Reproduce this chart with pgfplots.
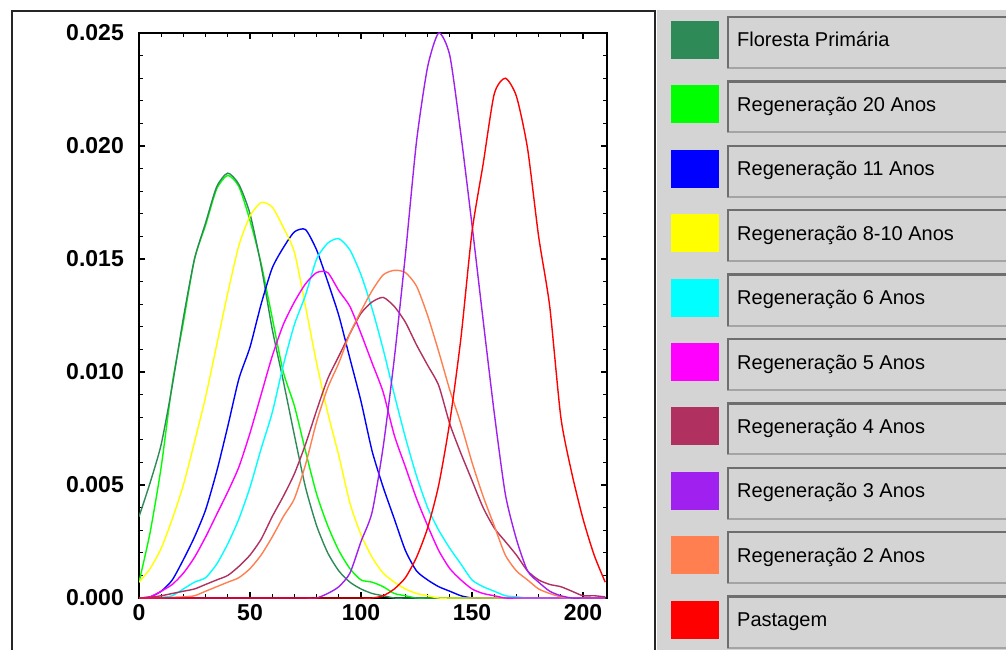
\documentclass[border=0pt]{standalone}
\usepackage{pgfplots}
\pgfplotsset{compat=1.18}
\usepackage{pgfplotstable}
\usepackage{fontspec}
\setmainfont{Liberation Sans}
\definecolor{cFP}{HTML}{2E8B57}
\definecolor{cRa}{HTML}{00FF00}
\definecolor{cRb}{HTML}{0000FF}
\definecolor{cRc}{HTML}{FFFF00}
\definecolor{cRd}{HTML}{00FFFF}
\definecolor{cRe}{HTML}{FF00FF}
\definecolor{cRf}{HTML}{B03060}
\definecolor{cRg}{HTML}{A020F0}
\definecolor{cRh}{HTML}{FF7F50}
\definecolor{cP}{HTML}{FF0000}
\definecolor{panel}{HTML}{D4D4D4}
\definecolor{bdark}{HTML}{6E6E6E}
\definecolor{blight}{HTML}{A4A4A4}

\pgfplotstableread{
x   fp     ra     rb      rc     rd      re      rf      rg     rh      p
0   0.0036 0.0007 0       0.0007 0       0       0       0      0       0
5   0.0051 0.0029 0.00005 0.0013 0       0.00005 0.00003 0      0       0
10  0.0068 0.0058 0.0003  0.0022 0.00003 0.0003  0.0001  0      0       0
15  0.0094 0.0095 0.0008  0.0035 0.0001  0.0006  0.0002  0      0.00003 0
20  0.0124 0.0122 0.0017  0.0050 0.0004  0.0011  0.0003  0      0.00005 0
25  0.0150 0.0150 0.0027  0.0069 0.0007  0.0018  0.0004  0      0.0001  0
30  0.0166 0.0165 0.0039  0.0089 0.0009  0.0027  0.0006  0      0.0003  0
35  0.0182 0.0181 0.0056  0.0112 0.0015  0.0037  0.0008  0      0.0005  0
40  0.0188 0.0187 0.0076  0.0135 0.0024  0.0047  0.0010  0      0.0007  0
45  0.0183 0.0182 0.0097  0.0156 0.0035  0.0058  0.0014  0      0.0009  0
50  0.0170 0.0167 0.0111  0.0169 0.0049  0.0073  0.0019  0      0.0013  0
55  0.0147 0.0148 0.0130  0.0175 0.0066  0.0090  0.0026  0      0.0019  0
60  0.0119 0.0124 0.0146  0.0173 0.0082  0.0107  0.0036  0      0.0027  0
65  0.0096 0.0100 0.0155  0.0164 0.0103  0.0121  0.0045  0      0.0036  0
70  0.0072 0.0085 0.0162  0.0153 0.0121  0.0131  0.0055  0      0.0044  0
75  0.0049 0.0065 0.0163  0.0129 0.0134  0.0139  0.0068  0      0.0059  0
80  0.0032 0.0046 0.0154  0.0104 0.0150  0.0144  0.0083  0      0.0078  0
85  0.0020 0.0032 0.0140  0.0082 0.0157  0.0144  0.0097  0.0002 0.0093  0
90  0.0012 0.0021 0.0125  0.0063 0.0159  0.0136  0.0107  0.0005 0.0104  0
95  0.0007 0.0013 0.0106  0.0042 0.0154  0.0129  0.0117  0.0011 0.0117  0
100 0.0004 0.0008 0.0087  0.0028 0.0143  0.0117  0.0126  0.0025 0.0127  0
105 0.0002 0.0007 0.0065  0.0018 0.0128  0.0104  0.0131  0.0038 0.0136  0
110 0.0001 0.0005 0.0049  0.0011 0.0110  0.0091  0.0133  0.0067 0.0143  0.0001
115 0      0.0002 0.0035  0.0007 0.0090  0.0072  0.0129  0.0106 0.0145  0.0004
120 0      0.0001 0.0021  0.0004 0.0071  0.0058  0.0122  0.0152 0.0144  0.0009
125 0      0      0.0012  0.0002 0.0054  0.0044  0.0112  0.0202 0.0138  0.0018
130 0      0      0.0008  0.0001 0.0040  0.0032  0.0103  0.0235 0.0125  0.0031
135 0      0      0.0005  0      0.0030  0.0021  0.0094  0.0250 0.0109  0.0050
140 0      0      0.0003  0      0.0022  0.0013  0.0077  0.0240 0.0092  0.0078
145 0      0      0.0001  0      0.0015  0.0008  0.0064  0.0205 0.0077  0.0115
150 0      0      0       0      0.0008  0.0004  0.0052  0.0165 0.0060  0.0162
155 0      0      0       0      0.0005  0.0002  0.0040  0.0123 0.0045  0.0192
160 0      0      0       0      0.0003  0.0001  0.0031  0.0082 0.0032  0.0223
165 0      0      0       0      0.0001  0       0.0025  0.0046 0.0019  0.0230
170 0      0      0       0      0.00005 0       0.0019  0.0026 0.0012  0.0222
175 0      0      0       0      0       0       0.0012  0.0012 0.0008  0.0199
180 0      0      0       0      0       0       0.0008  0.0007 0.0004  0.0160
185 0      0      0       0      0       0       0.0006  0.0003 0.0002  0.0129
190 0      0      0       0      0       0       0.0005  0.0001 0.00005 0.0080
195 0      0      0       0      0       0       0.0003  0      0       0.0055
200 0      0      0       0      0       0       0.0001  0      0       0.0035
205 0      0      0       0      0       0       0.0001  0      0       0.0019
210 0      0      0       0      0       0       0.00005 0      0       0.0007
}\data

\begin{document}
\begin{tikzpicture}
\useasboundingbox (0pt,0pt) rectangle (1006pt,649pt);
\clip (0pt,0pt) rectangle (1006pt,649pt);
% left panel frame
\draw[line width=1.5pt, black!85] (12pt,-10pt) rectangle (655pt,638pt);
% right grey panel
\fill[panel] (657pt,-10pt) rectangle (1012pt,639pt);

\begin{axis}[
  at={(139pt,51pt)}, anchor=south west,
  scale only axis, width=468pt, height=565pt,
  xmin=0, xmax=210.8, ymin=0, ymax=0.025,
  xtick={0,50,100,150,200}, minor x tick num=4,
  ytick={0,0.005,0.01,0.015,0.02,0.025}, minor y tick num=4,
  scaled y ticks=false,
  yticklabel style={/pgf/number format/fixed, /pgf/number format/fixed zerofill, /pgf/number format/precision=3, inner sep=0pt, xshift=-15pt},
  xticklabel style={inner sep=0pt, yshift=-6pt},
  /pgf/number format/assume math mode=true,
  tick label style={font=\fontsize{23}{23}\selectfont\bfseries},
  axis line style={line width=1.5pt},
  major tick length=6pt, minor tick length=4pt,
  tick style={line width=1.1pt, black},
  every axis plot/.append style={line width=1.4pt, smooth, tension=0.4, mark=none},
]
\addplot[cRa] table[x=x,y=ra]{\data};
\addplot[cFP] table[x=x,y=fp]{\data};
\addplot[cRb] table[x=x,y=rb]{\data};
\addplot[cRc] table[x=x,y=rc]{\data};
\addplot[cRd] table[x=x,y=rd]{\data};
\addplot[cRe] table[x=x,y=re]{\data};
\addplot[cRf] table[x=x,y=rf]{\data};
\addplot[cRh] table[x=x,y=rh]{\data};
\addplot[cRg] table[x=x,y=rg]{\data};
\addplot[cP] table[x=x,y=p]{\data};
\end{axis}

% legend panel
\foreach \k/\c/\t in {0/cFP/{Floresta Primária}, 1/cRa/{Regeneração 20 Anos}, 2/cRb/{Regeneração 11 Anos}, 3/cRc/{Regeneração 8-10 Anos}, 4/cRd/{Regeneração 6 Anos}, 5/cRe/{Regeneração 5 Anos}, 6/cRf/{Regeneração 4 Anos}, 7/cRg/{Regeneração 3 Anos}, 8/cRh/{Regeneração 2 Anos}, 9/cP/{Pastagem}} {
  \pgfmathsetmacro\sqt{649-21-64.4*\k}
  \pgfmathsetmacro\sqb{649-59-64.4*\k}
  \pgfmathsetmacro\bxt{649-17-64.4*\k}
  \pgfmathsetmacro\bxb{649-68-64.4*\k}
  \pgfmathsetmacro\bl{649-47-64.4*\k}
  \fill[\c] (671pt,\sqb pt) rectangle (719pt,\sqt pt);
  \draw[blight, line width=2pt] (728pt,\bxb pt) rectangle (1015pt,\bxt pt);
  \draw[bdark, line width=2.5pt] (728pt,\bxb pt) -- (728pt,\bxt pt) -- (1015pt,\bxt pt);
  \node[anchor=base west, inner sep=0pt, font=\fontsize{20}{21}\selectfont] at (737pt,\bl pt) {\t};
}
\end{tikzpicture}
\end{document}
